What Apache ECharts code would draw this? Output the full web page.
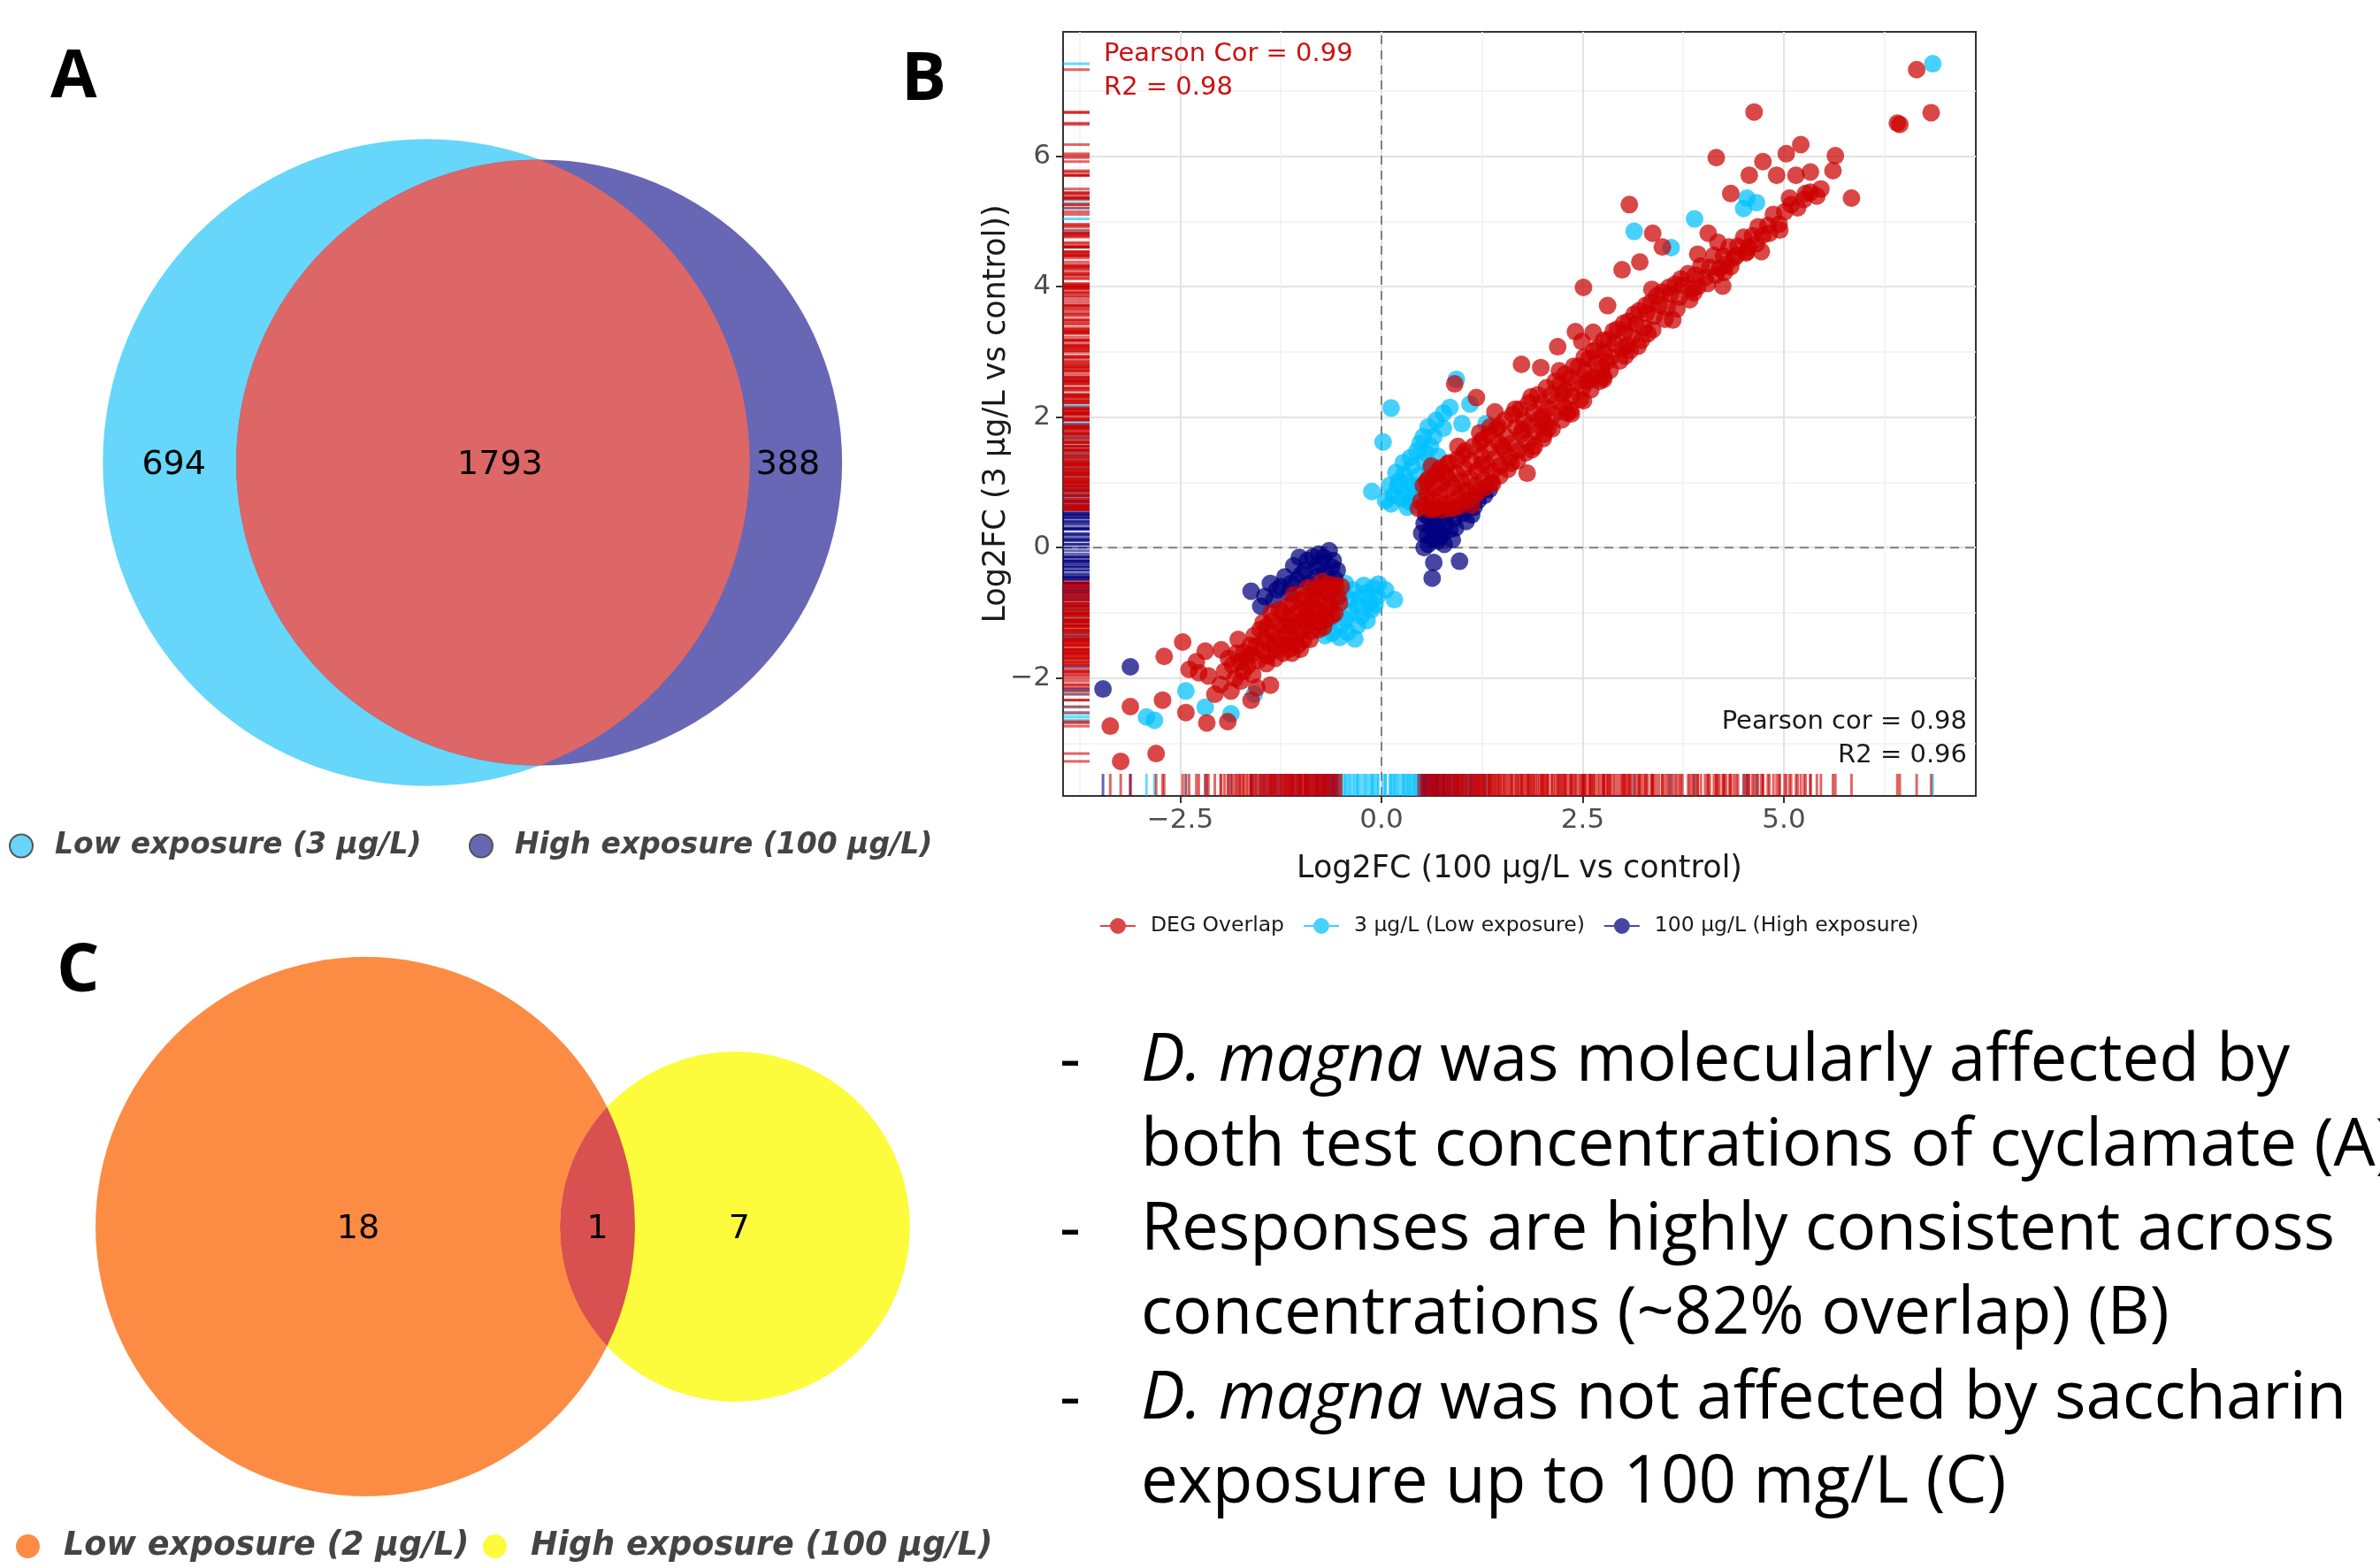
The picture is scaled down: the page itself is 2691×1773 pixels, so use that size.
<!DOCTYPE html>
<html><head><meta charset="utf-8">
<script src="https://cdn.jsdelivr.net/npm/echarts@6/dist/echarts.min.js"></script>
<style>html,body{margin:0;padding:0;background:#fff}#c{width:2691px;height:1773px}</style>
</head><body><div id="c"></div>
<script>
// ================= DATA =================
// Venn A (cyclamate): [only low, both, only high]
const vennALabels = ['Low exposure (3 μg/L)', 'High exposure (100 μg/L)'];
const vennACounts = [694, 1793, 388];
// Venn C (saccharin): [only low, both, only high]
const vennCLabels = ['Low exposure (2 μg/L)', 'High exposure (100 μg/L)'];
const vennCCounts = [18, 1, 7];

// Scatter B
const bSeriesNames = ['DEG Overlap', '3 μg/L (Low exposure)', '100 μg/L (High exposure)'];
const bXTicks = [-2.5, 0, 2.5, 5];
const bYTicks = [-2, 0, 2, 4, 6];
const bXMinor = [-3.75, -1.25, 1.25, 3.75, 6.25];
const bYMinor = [-3, -1, 1, 3, 5, 7];
const bXTitle = 'Log2FC (100 μg/L vs control)';
const bYTitle = 'Log2FC (3 μg/L vs control))';
const statsTop = ['Pearson Cor = 0.99', 'R2 = 0.98'];
const statsBottom = ['Pearson cor = 0.98', 'R2 = 0.96'];

// DEG overlap points [log2FC 100, log2FC 3]
const degOverlap = [
 [0.46,0.60],[0.49,0.71],[0.53,0.64],[0.57,0.82],[0.60,0.59],[0.63,0.74],[0.66,0.91],[0.69,0.62],[0.72,0.80],[0.74,0.99],
 [0.78,0.66],[0.81,0.87],[0.83,1.06],[0.87,0.70],[0.89,0.94],[0.93,1.13],[0.96,0.77],[0.99,1.02],[1.03,1.21],[1.06,0.87],
 [1.10,1.07],[1.12,1.32],[1.17,0.95],[1.19,1.18],[1.24,1.41],[1.27,1.04],[1.31,1.27],[1.33,1.50],[1.38,1.16],[1.41,1.37],
 [1.45,1.61],[1.48,1.26],[1.52,1.50],[1.55,1.70],[1.59,1.39],[1.62,1.60],[1.67,1.85],[1.70,1.49],[1.74,1.74],[1.77,1.96],
 [1.82,1.62],[1.84,1.87],[1.89,2.07],[1.92,1.77],[1.96,1.98],[1.99,2.22],[2.04,1.89],[2.07,2.13],[2.11,2.34],[2.14,2.04],
 [2.19,2.25],[2.22,2.50],[2.27,2.16],[2.29,2.41],[2.34,2.61],[2.37,2.32],[2.42,2.53],[2.45,2.78],[2.50,2.45],[2.53,2.70],
 [2.58,2.90],[2.61,2.61],[2.66,2.82],[2.69,3.06],[2.74,2.75],[2.77,2.99],[2.82,3.19],[2.85,2.92],[2.90,3.12],[2.93,3.35],
 [2.99,3.05],[3.02,3.29],[3.07,3.47],[3.11,3.23],[3.16,3.42],[3.20,3.63],[3.26,3.37],[3.29,3.59],[3.35,3.76],[3.39,3.55],
 [3.45,3.72],[3.49,3.92],[3.55,3.68],[3.59,3.89],[3.65,4.04],[3.70,3.84],[3.74,4.02],[3.81,4.20],[3.86,3.97],[3.90,4.18],
 [3.97,4.32],[4.02,4.14],[4.08,4.30],[4.13,4.48],[4.20,4.28],[4.25,4.47],[4.32,4.61],[4.38,4.44],[4.43,4.62],[4.50,4.76],
 [4.56,4.61],[4.61,4.78],[4.68,4.92],[4.74,4.79],[4.80,4.94],[4.87,5.11],[4.94,4.96],[5.01,5.15],[5.09,5.26],[5.17,5.21],
 [5.25,5.34],[5.33,5.45],[5.41,5.39],
 [0.52,0.95],[0.58,1.05],[0.64,0.58],[0.67,1.12],[0.73,1.22],[0.76,0.58],[0.82,1.28],[0.85,0.60],[0.94,1.35],[0.97,0.64],
 [1.04,1.48],[1.07,0.72],[1.14,1.55],[1.16,0.80],[1.23,1.62],[1.29,0.92],[1.34,1.74],[1.36,1.00],[1.43,1.82],[1.47,1.10],
 [1.53,1.95],[1.57,1.20],[1.63,2.04],[1.69,1.33],[1.72,2.12],[1.79,1.45],[1.83,2.22],[1.90,1.55],[1.94,2.34],[2.01,1.67],
 [2.05,2.45],[2.12,1.82],[2.16,2.55],[2.24,1.96],[2.28,2.66],[2.35,2.10],[2.39,2.78],[2.47,2.27],[2.52,2.92],[2.60,2.42],
 [2.64,3.02],[2.71,2.55],[2.76,3.18],[2.84,2.72],[2.88,3.32],[2.96,2.86],[3.01,3.44],[3.09,3.02],[3.14,3.58],[3.23,3.18],
 [3.28,3.71],[3.37,3.34],[3.42,3.86],[3.52,3.50],[3.57,3.99],[3.67,3.66],[3.72,4.12],[3.83,3.80],[3.93,4.00],[4.05,4.05],
 [4.16,4.18],[4.28,4.34],[4.41,4.48],[4.53,4.52],[4.66,4.66],[4.82,4.82],[0.80,1.12],[1.00,0.88],[1.25,1.28],[1.50,1.55],
 [1.75,1.80],[2.00,2.00],[2.25,2.36],[2.55,2.55],[2.80,2.85],[3.05,3.10],[1.12,0.65],[0.62,1.25],[1.35,1.85],[0.95,1.55],
 [1.45,1.86],[1.61,1.29],[2.02,1.74],[2.21,2.71],[1.01,1.42],[0.71,1.16],[2.49,3.16],[2.76,2.58],[1.86,2.31],[1.26,1.66],
 [0.56,1.01],[0.91,0.61],[1.21,0.86],[3.36,3.96],[3.03,2.94],[1.66,2.12],[0.84,1.30],[1.38,0.98],[2.36,2.05],[2.63,3.30],
 [6.65,7.33],[6.83,6.67],[6.41,6.51],[6.44,6.49],[4.63,6.68],[4.16,5.98],[5.21,6.18],[5.03,6.04],[4.74,5.92],[5.64,6.01],
 [5.61,5.78],[5.33,5.76],[5.15,5.71],[4.91,5.71],[4.57,5.71],[5.46,5.50],[5.84,5.36],[5.27,5.43],[5.07,5.36],[4.34,5.43],
 [3.08,5.26],[4.95,4.87],[4.54,4.54],[4.72,4.54],[4.26,4.22],[4.34,4.31],[3.37,4.82],[3.49,4.61],[2.51,3.99],[2.99,4.26],
 [4.06,4.82],[4.18,4.68],[3.93,4.50],[2.81,3.71],[3.21,4.38],[3.31,3.28],[2.59,2.57],[2.19,3.08],[1.74,2.81],[1.18,2.30],
 [0.91,2.51],[1.81,1.14],[2.07,1.83],[1.87,1.50],[2.51,2.25],[2.76,2.62],[2.41,3.31],[1.98,2.76],[1.41,2.08],[1.22,1.76],
 [2.31,2.06],[3.62,3.49],[3.88,3.91],[4.24,4.01],[3.19,3.09],
 [-0.50,-0.60],[-0.54,-0.76],[-0.60,-0.63],[-0.63,-0.89],[-0.66,-0.71],[-0.70,-0.86],[-0.73,-0.66],[-0.75,-1.01],[-0.79,-0.79],[-0.81,-0.93],
 [-0.82,-1.13],[-0.86,-0.81],[-0.88,-1.01],[-0.91,-1.19],[-0.93,-0.91],[-0.95,-1.09],[-0.99,-1.27],[-1.01,-0.96],[-1.03,-1.14],[-1.06,-1.36],
 [-1.08,-1.03],[-1.11,-1.21],[-1.13,-1.43],[-1.16,-1.11],[-1.18,-1.31],[-1.21,-1.49],[-1.25,-1.19],[-1.28,-1.39],[-1.31,-1.57],[-1.35,-1.31],
 [-1.39,-1.47],[-1.41,-1.66],[-1.46,-1.41],[-1.48,-1.57],[-1.53,-1.73],[-1.56,-1.51],[-1.61,-1.64],[-1.66,-1.81],[-1.71,-1.61],[-1.76,-1.76],
 [-0.58,-1.01],[-0.69,-1.11],[-0.78,-1.26],[-0.89,-1.41],[-1.01,-1.56],[-1.11,-1.62],[-0.96,-0.76],[-1.12,-0.86],[-1.23,-1.01],[-1.36,-1.12],
 [-1.51,-1.26],[-0.66,-0.56],[-0.81,-0.61],[-1.42,-1.21],[-0.72,-1.22],
 [-0.52,-0.85],[-0.57,-0.58],[-0.62,-1.05],[-0.68,-0.98],[-0.74,-0.52],[-0.77,-1.15],[-0.84,-0.70],[-0.87,-1.28],[-0.92,-0.62],[-0.97,-1.42],
 [-1.00,-0.80],[-1.04,-1.50],[-1.09,-0.72],[-1.14,-1.55],[-1.17,-0.90],[-1.22,-1.62],[-1.27,-0.95],[-1.32,-1.70],[-1.37,-1.00],[-1.43,-1.78],
 [-1.47,-1.15],[-1.58,-1.35],[-1.63,-1.50],[-1.68,-1.70],[-1.80,-1.62],[-1.72,-1.90],[-1.85,-1.80],[-0.94,-1.05],[-1.19,-1.20],[-1.33,-1.45],
 [-2.47,-1.45],[-2.70,-1.67],[-2.19,-1.59],[-1.99,-1.57],[-1.78,-1.41],[-2.39,-1.87],[-2.27,-1.92],[-2.15,-1.97],[-1.95,-1.90],[-1.82,-2.01],
 [-2.07,-2.25],[-1.87,-2.20],[-1.62,-2.34],[-1.38,-2.11],[-1.91,-2.67],[-2.17,-2.69],[-2.43,-2.53],[-2.72,-2.34],[-3.12,-2.44],[-3.37,-2.74],
 [-3.24,-3.28],[-2.80,-3.16],[-1.60,-1.95],[-1.75,-2.05],[-2.00,-2.10],[-1.55,-2.15],[-2.30,-1.75],[-1.90,-1.70]
];
// Genes only significant at 3 μg/L
const lowOnly = [
 [0.12,2.14],[0.02,1.62],[-0.12,0.86],[0.93,2.58],[0.77,1.83],[0.61,1.55],[0.12,0.67],[0.28,1.12],[0.41,0.94],[0.20,0.94],
 [0.53,1.31],[0.77,2.06],[0.35,0.70],[0.45,1.10],[0.30,0.85],[0.50,0.80],[0.38,1.25],[0.60,1.20],[0.65,1.70],[0.55,1.45],
 [0.25,0.75],[0.42,0.65],[0.70,1.40],[0.48,1.60],[1.00,1.90],[1.10,2.20],[3.14,4.85],[3.89,5.04],[4.54,5.36],[4.66,5.29],
 [6.85,7.42],[4.50,5.20],[3.60,4.60],[1.30,1.90],
 [0.15,0.80],[0.22,1.02],[0.32,0.62],[0.36,1.38],[0.44,1.48],[0.33,1.00],[0.18,1.15],[0.27,1.30],[0.40,0.80],[0.52,1.70],
 [0.58,1.85],[0.47,0.95],[0.10,0.95],[0.05,0.72],[0.68,1.95],[0.85,2.15],
 [0.16,-0.80],[-0.20,-0.70],[-0.04,-0.56],[-0.61,-1.31],[-0.30,-0.90],[-0.45,-1.10],[-0.35,-0.65],[-0.50,-1.20],[-0.25,-1.05],[-0.40,-0.80],
 [-0.15,-0.85],[-0.55,-0.95],[-0.30,-1.20],[-0.10,-0.62],[-0.48,-0.70],[-0.70,-1.35],[-0.65,-1.15],
 [-0.05,-0.75],[-0.12,-0.95],[-0.22,-0.58],[-0.28,-0.78],[-0.38,-1.00],[-0.42,-1.30],[-0.52,-1.38],[-0.18,-1.12],[-0.33,-1.40],[-0.58,-0.72],
 [-0.08,-0.88],[0.05,-0.65],[-0.45,-0.55],
 [-2.43,-2.20],[-2.19,-2.45],[-2.92,-2.60],[-2.82,-2.65],[-1.87,-2.55],[-1.58,-2.25]
];
// Genes only significant at 100 μg/L
const highOnly = [
 [0.53,0.00],[0.65,-0.23],[0.63,-0.47],[0.97,-0.21],[0.57,0.19],[0.69,0.28],[0.53,0.37],[0.77,0.47],[1.01,0.52],[1.34,0.89],
 [1.28,0.80],[1.09,0.70],[0.85,0.28],[0.60,0.45],[0.70,0.10],[0.80,0.35],[0.90,0.45],[0.62,0.30],[0.75,0.20],[0.55,0.50],
 [0.95,0.60],[1.15,0.62],[0.68,0.55],
 [0.58,0.05],[0.66,0.40],[0.72,0.15],[0.82,0.52],[0.88,0.12],[0.92,0.30],[1.05,0.40],[1.20,0.72],[0.50,0.22],[0.78,0.05],
 [1.12,0.50],[0.64,0.12],
 [-1.62,-0.67],[-3.12,-1.83],[-3.46,-2.17],[-0.65,-0.05],[-0.85,-0.14],[-1.09,-0.28],[-1.20,-0.45],[-1.34,-0.80],[-0.75,-0.25],[-0.95,-0.35],
 [-1.05,-0.50],[-0.70,-0.40],[-0.60,-0.20],[-1.25,-0.60],[-0.90,-0.55],[-1.45,-0.75],[-0.80,-0.45],[-1.15,-0.70],[-0.55,-0.35],
 [-0.62,-0.30],[-0.72,-0.15],[-0.82,-0.30],[-0.92,-0.20],[-1.00,-0.42],[-1.12,-0.55],[-1.30,-0.65],[-0.68,-0.55],[-0.78,-0.10],[-1.02,-0.15],
 [-1.38,-0.55],[-1.50,-0.90],[-0.58,-0.48]
];

// Text panel
const bulletLines = [
 {dash: true, italic: 'D. magna', rest: ' was molecularly affected by'},
 {dash: false, italic: '', rest: 'both test concentrations of cyclamate (A)'},
 {dash: true, italic: '', rest: 'Responses are highly consistent across'},
 {dash: false, italic: '', rest: 'concentrations (~82% overlap) (B)'},
 {dash: true, italic: 'D. magna', rest: ' was not affected by saccharin'},
 {dash: false, italic: '', rest: 'exposure up to 100 mg/L (C)'}
];
const panelLetters = ['A', 'B', 'C'];

// ================= LAYOUT / STYLE =================
const colA = ['#66d6fa', '#6767b5', '#dd6666'];
const colC = ['#fc8c44', '#fcfc3c', '#d95050'];
const colB = ['#cc0000', '#00bfff', '#00007f'];
const bX = [-3.956, 7.385], bY = [-3.81, 7.91];

function lensArea(r1, r2, d) {
  if (d >= r1 + r2) return 0;
  if (d <= Math.abs(r1 - r2)) return Math.PI * Math.min(r1, r2) ** 2;
  const a1 = r1 * r1 * Math.acos((d * d + r1 * r1 - r2 * r2) / (2 * d * r1));
  const a2 = r2 * r2 * Math.acos((d * d + r2 * r2 - r1 * r1) / (2 * d * r2));
  const t = 0.5 * Math.sqrt((-d + r1 + r2) * (d + r1 - r2) * (d - r1 + r2) * (d + r1 + r2));
  return a1 + a2 - t;
}
function solveDistance(r1, r2, target) {
  let lo = Math.abs(r1 - r2), hi = r1 + r2;
  for (let i = 0; i < 80; i++) {
    const m = (lo + hi) / 2;
    if (lensArea(r1, r2, m) > target) lo = m; else hi = m;
  }
  return (lo + hi) / 2;
}
// circle radii so that area == set size
const rA1 = Math.sqrt((vennACounts[0] + vennACounts[1]) / Math.PI);
const rA2 = Math.sqrt((vennACounts[1] + vennACounts[2]) / Math.PI);
const dA = solveDistance(rA1, rA2, vennACounts[1]);
const rC1 = Math.sqrt((vennCCounts[0] + vennCCounts[1]) / Math.PI);
const rC2 = Math.sqrt((vennCCounts[1] + vennCCounts[2]) / Math.PI);
const dC = 3.37; // layout separation used in the original figure

function vennAxes(grid, scale, cx, cy) {
  return {
    x: {min: -cx / scale, max: (grid.width - cx) / scale},
    y: {min: -(grid.height - cy) / scale, max: cy / scale}
  };
}
const gridA = {left: 0, top: 0, width: 1100, height: 1000};
const gridC = {left: 0, top: 1060, width: 1150, height: 640};
const axA = vennAxes(gridA, 13.0, 482, 523);
const axC = vennAxes(gridC, 124.0, 413, 1387 - 1060);

function circleRender(color) {
  return function (params, api) {
    const c = api.coord([api.value(0), api.value(1)]);
    const r = api.size([api.value(2), 0])[0];
    return {type: 'circle', shape: {cx: c[0], cy: c[1], r: r}, style: {fill: color}};
  };
}
function overlayRender(lensColor, counts, mode, fontSize, nudge) {
  return function (params, api) {
    const c1 = api.coord([api.value(0), api.value(1)]);
    const R1 = api.size([api.value(2), 0])[0];
    const c2 = api.coord([api.value(3), api.value(4)]);
    const R2 = api.size([api.value(5), 0])[0];
    const D = c2[0] - c1[0];
    const a = (D * D + R1 * R1 - R2 * R2) / (2 * D);
    const h = Math.sqrt(R1 * R1 - a * a);
    const px = c1[0] + a, ty = c1[1] - h, by = c1[1] + h;
    const path = 'M' + px + ',' + ty + 'A' + R2 + ',' + R2 + ',0,' + (a > D ? 1 : 0) + ',0,' + px + ',' + by +
      'A' + R1 + ',' + R1 + ',0,' + (a < 0 ? 1 : 0) + ',0,' + px + ',' + ty + 'Z';
    let xs;
    if (mode === 'mid') xs = [(c1[0] - R1 + c2[0] - R2) / 2, (c2[0] - R2 + c1[0] + R1) / 2, (c1[0] + R1 + c2[0] + R2) / 2];
    else xs = [c1[0], (c2[0] - R2 + c1[0] + R1) / 2, c2[0]];
    const children = [{type: 'path', shape: {pathData: path}, style: {fill: lensColor}}];
    counts.forEach(function (t, i) {
      children.push({type: 'text', x: xs[i] + nudge[i], y: c1[1] + 3, style: {text: String(t), fill: '#000', fontSize: fontSize,
        fontFamily: 'DejaVu Sans', align: 'center', verticalAlign: 'middle'}});
    });
    return {type: 'group', children: children};
  };
}

const fmt = function (v, dec) { return (v < 0 ? '\u2212' : '') + Math.abs(v).toFixed(dec); };

const legendNames = {'A-low': vennALabels[0], 'A-high': vennALabels[1], 'C-low': vennCLabels[0], 'C-high': vennCLabels[1]};
function vennLegend(name, left, top, size, fontSize, border) {
  return {
    data: [name], left: left, top: top, padding: 0, icon: 'circle', itemWidth: size, itemHeight: size,
    formatter: function (n) { return legendNames[n]; },
    itemStyle: border ? {borderColor: '#555', borderWidth: 2} : {borderWidth: 0},
    textStyle: {fontSize: fontSize, fontWeight: 'bold', fontStyle: 'italic', fontFamily: 'DejaVu Sans', color: '#444',
      padding: [0, 0, 0, Math.round(fontSize * 0.6)]},
    selectedMode: false
  };
}

function rugSeries(points, color, side, idx) {
  const data = points.map(function (p) { return side === 'x' ? [p[0], bY[0]] : [bX[0], p[1]]; });
  return {
    type: 'scatter', name: '_rug' + side + idx, xAxisIndex: 1, yAxisIndex: 1, data: data, clip: false,
    symbol: 'rect', symbolSize: side === 'x' ? [3, 25] : [30, 3], symbolOffset: side === 'x' ? [0, -12.5] : [15, 0],
    itemStyle: {color: color, opacity: 0.6}, silent: true, z: 6
  };
}
function pointSeries(name, points, color, z) {
  return {type: 'scatter', name: name, xAxisIndex: 1, yAxisIndex: 1, data: points, symbolSize: 20,
    itemStyle: {color: color, opacity: 0.72}, z: z, silent: true};
}

const textFont = {fontSize: 74.5, fontFamily: 'Open Sans', fill: '#000'};
const graphics = [];
bulletLines.forEach(function (l, i) {
  const y = 1201 + i * 95.4;
  if (l.dash) graphics.push({type: 'text', x: 1198, y: y, style: Object.assign({text: '-', verticalAlign: 'middle'}, textFont)});
  graphics.push({type: 'text', x: 1290, y: y, style: Object.assign({
    text: (l.italic ? '{i|' + l.italic + '}' : '') + '{n|' + l.rest + '}', verticalAlign: 'middle',
    rich: {i: Object.assign({fontStyle: 'italic'}, textFont), n: Object.assign({}, textFont)}
  }, textFont)});
});
const letterPos = [[57, 88], [1019, 91], [64, 1099]];
panelLetters.forEach(function (t, i) {
  graphics.push({type: 'text', x: letterPos[i][0], y: letterPos[i][1], style: {text: t, fontSize: 76, fontWeight: 'bold',
    fontFamily: 'Open Sans', fill: '#000', verticalAlign: 'middle'}});
});
graphics.push({type: 'text', x: 1248, y: 61, z: 20, style: {text: statsTop[0], fontSize: 29, fontFamily: 'DejaVu Sans', fill: '#cc1111', verticalAlign: 'middle'}});
graphics.push({type: 'text', x: 1248, y: 99, z: 20, style: {text: statsTop[1], fontSize: 29, fontFamily: 'DejaVu Sans', fill: '#cc1111', verticalAlign: 'middle'}});
graphics.push({type: 'text', x: 2224, y: 816, z: 20, style: {text: statsBottom[0], fontSize: 29, fontFamily: 'DejaVu Sans', fill: '#1a1a1a', align: 'right', verticalAlign: 'middle'}});
graphics.push({type: 'text', x: 2224, y: 854, z: 20, style: {text: statsBottom[1], fontSize: 29, fontFamily: 'DejaVu Sans', fill: '#1a1a1a', align: 'right', verticalAlign: 'middle'}});

const hiddenAxis = function (grid, ext) { return {gridIndex: grid, type: 'value', min: ext.min, max: ext.max, show: false}; };
const tickStyle = {lineStyle: {color: '#333', width: 2}, length: 8};

const option = {
  animation: false,
  backgroundColor: '#fff',
  grid: [
    Object.assign({show: false, outerBoundsMode: 'none'}, gridA),
    {left: 1202, top: 36, width: 1032, height: 864, show: true, borderColor: '#333', borderWidth: 2, backgroundColor: '#fff', outerBoundsMode: 'none'},
    Object.assign({show: false, outerBoundsMode: 'none'}, gridC)
  ],
  xAxis: [
    hiddenAxis(0, axA.x),
    {gridIndex: 1, type: 'value', min: bX[0], max: bX[1],
      axisLine: {show: true, onZero: false, lineStyle: {color: '#333', width: 2}},
      axisTick: Object.assign({show: true, customValues: bXTicks}, tickStyle),
      axisLabel: {customValues: bXTicks, formatter: function (v) { return fmt(v, 1); }, color: '#4d4d4d', fontSize: 31, fontFamily: 'DejaVu Sans', margin: 12},
      splitLine: {show: true, lineStyle: {color: '#e3e3e3', width: 2}},
      name: bXTitle, nameLocation: 'middle', nameGap: 65, nameMoveOverlap: false,
      nameTextStyle: {fontSize: 35, color: '#1a1a1a', fontFamily: 'DejaVu Sans'}},
    {gridIndex: 1, type: 'value', min: bX[0], max: bX[1], position: 'bottom',
      axisLine: {show: false, onZero: false}, axisTick: {show: false, customValues: bXMinor}, axisLabel: {show: false},
      splitLine: {show: true, lineStyle: {color: '#f0f0f0', width: 1.5}}},
    hiddenAxis(2, axC.x)
  ],
  yAxis: [
    hiddenAxis(0, axA.y),
    {gridIndex: 1, type: 'value', min: bY[0], max: bY[1],
      axisLine: {show: true, onZero: false, lineStyle: {color: '#333', width: 2}},
      axisTick: Object.assign({show: true, customValues: bYTicks}, tickStyle),
      axisLabel: {customValues: bYTicks, formatter: function (v) { return fmt(v, 0); }, color: '#4d4d4d', fontSize: 31, fontFamily: 'DejaVu Sans', margin: 14},
      splitLine: {show: true, lineStyle: {color: '#e3e3e3', width: 2}},
      name: bYTitle, nameLocation: 'middle', nameGap: 58, nameMoveOverlap: false,
      nameTextStyle: {fontSize: 35, color: '#1a1a1a', fontFamily: 'DejaVu Sans'}},
    {gridIndex: 1, type: 'value', min: bY[0], max: bY[1], position: 'left',
      axisLine: {show: false, onZero: false}, axisTick: {show: false, customValues: bYMinor}, axisLabel: {show: false},
      splitLine: {show: true, lineStyle: {color: '#f0f0f0', width: 1.5}}},
    hiddenAxis(2, axC.y)
  ],
  legend: [
    vennLegend('A-low', 10, 940, 26, 33, true),
    vennLegend('A-high', 530, 940, 26, 33, true),
    vennLegend('C-low', 18, 1730, 27, 36.5, false),
    vennLegend('C-high', 546, 1730, 27, 36.5, false),
    {data: bSeriesNames, left: 1244, top: 1035, padding: 0, itemWidth: 40, itemHeight: 19, itemGap: 22, selectedMode: false,
      icon: 'path://M0,8.5H40V10.5H0Z M11,9.5A9,9,0,1,1,29,9.5A9,9,0,1,1,11,9.5Z',
      textStyle: {fontSize: 23.5, fontFamily: 'DejaVu Sans', color: '#1a1a1a', padding: [0, 0, 0, 12]}}
  ],
  graphic: graphics,
  series: [
    {type: 'custom', name: 'A-low', xAxisIndex: 0, yAxisIndex: 0, itemStyle: {color: colA[0]}, renderItem: circleRender(colA[0]), data: [[0, 0, rA1]], silent: true},
    {type: 'custom', name: 'A-high', xAxisIndex: 0, yAxisIndex: 0, itemStyle: {color: colA[1]}, renderItem: circleRender(colA[1]), data: [[dA, 0, rA2]], silent: true},
    {type: 'custom', name: 'A-both', xAxisIndex: 0, yAxisIndex: 0, renderItem: overlayRender(colA[2], vennACounts, 'mid', 38, [5, 8, -9]), data: [[0, 0, rA1, dA, 0, rA2]], silent: true},
    {type: 'custom', name: 'C-low', xAxisIndex: 3, yAxisIndex: 3, itemStyle: {color: colC[0]}, renderItem: circleRender(colC[0]), data: [[0, 0, rC1]], silent: true},
    {type: 'custom', name: 'C-high', xAxisIndex: 3, yAxisIndex: 3, itemStyle: {color: colC[1]}, renderItem: circleRender(colC[1]), data: [[dC, 0, rC2]], silent: true},
    {type: 'custom', name: 'C-both', xAxisIndex: 3, yAxisIndex: 3, renderItem: overlayRender(colC[2], vennCCounts, 'center', 38, [-8, 0, 5]), data: [[0, 0, rC1, dC, 0, rC2]], silent: true},
    {type: 'line', name: '_v0', xAxisIndex: 1, yAxisIndex: 1, data: [[0, bY[0]], [0, bY[1]]], showSymbol: false, silent: true, z: 1,
      lineStyle: {color: '#808080', width: 2, type: [10, 7]}},
    {type: 'line', name: '_h0', xAxisIndex: 1, yAxisIndex: 1, data: [[bX[0], 0], [bX[1], 0]], showSymbol: false, silent: true, z: 1,
      lineStyle: {color: '#808080', width: 2, type: [10, 7]}},
    pointSeries(bSeriesNames[1], lowOnly, colB[1], 3),
    pointSeries(bSeriesNames[2], highOnly, colB[2], 4),
    pointSeries(bSeriesNames[0], degOverlap, colB[0], 5),
    rugSeries(lowOnly, colB[1], 'x', 1), rugSeries(highOnly, colB[2], 'x', 2), rugSeries(degOverlap, colB[0], 'x', 0),
    rugSeries(lowOnly, colB[1], 'y', 1), rugSeries(highOnly, colB[2], 'y', 2), rugSeries(degOverlap, colB[0], 'y', 0)
  ]
};
const chart = echarts.init(document.getElementById('c'), null, {renderer: 'canvas'});
chart.setOption(option);
</script></body></html>
